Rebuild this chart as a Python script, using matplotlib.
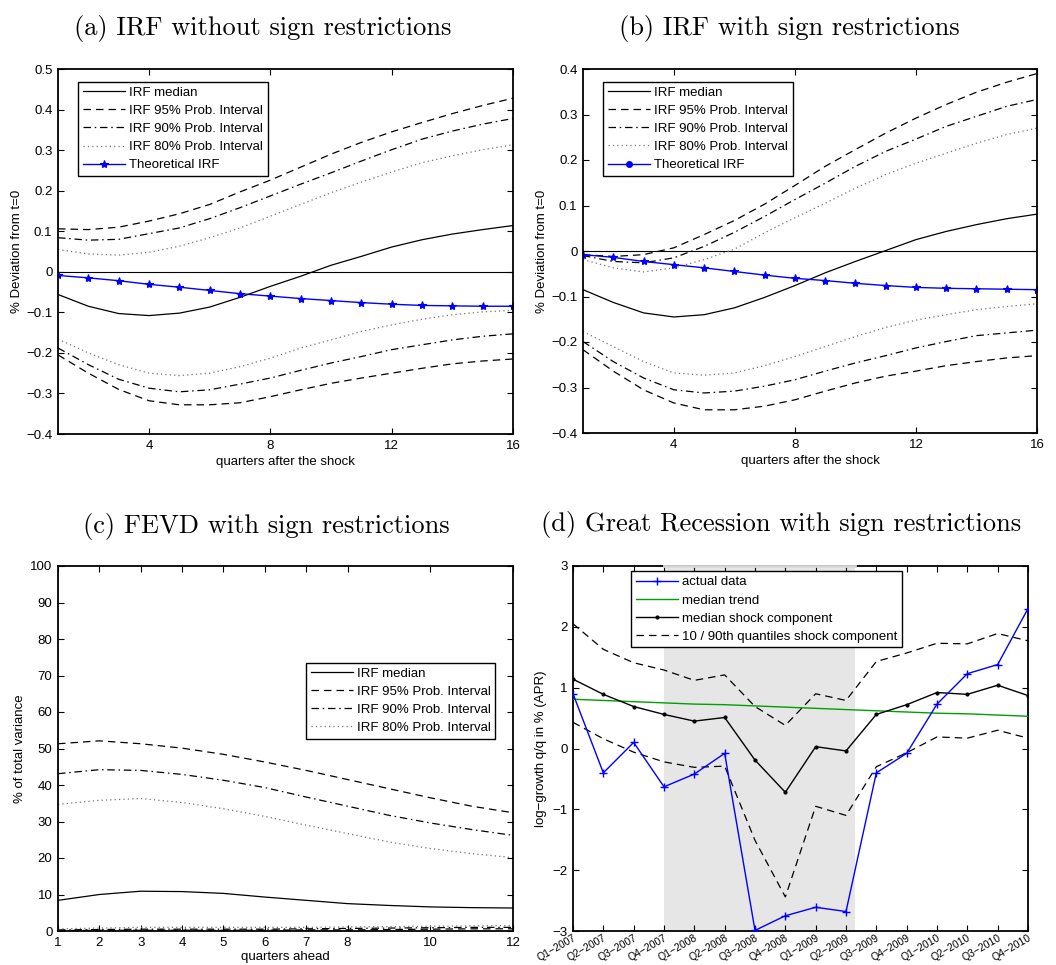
import matplotlib
matplotlib.use("Agg")
import matplotlib.pyplot as plt
from matplotlib.lines import Line2D
import numpy as np

plt.rcParams['font.family'] = ['Liberation Sans', 'DejaVu Sans']
plt.rcParams['axes.unicode_minus'] = True
plt.rcParams['font.size'] = 9.5

# ---------------- data ----------------
horizon = list(range(1, 17))

# (a) IRF without sign restrictions
a_median = [-0.056, -0.085, -0.103, -0.108, -0.102, -0.087, -0.063, -0.036,
            -0.011, 0.016, 0.038, 0.061, 0.079, 0.093, 0.104, 0.114]
a_up95 = [0.106, 0.104, 0.110, 0.125, 0.143, 0.166, 0.197, 0.226,
          0.258, 0.290, 0.319, 0.345, 0.368, 0.390, 0.410, 0.428]
a_up90 = [0.084, 0.078, 0.080, 0.094, 0.108, 0.131, 0.158, 0.187,
          0.216, 0.244, 0.273, 0.301, 0.327, 0.347, 0.364, 0.378]
a_up80 = [0.055, 0.044, 0.041, 0.048, 0.063, 0.084, 0.108, 0.137,
          0.166, 0.195, 0.221, 0.246, 0.269, 0.286, 0.301, 0.313]
a_lo80 = [-0.166, -0.200, -0.229, -0.250, -0.256, -0.250, -0.234, -0.213,
          -0.188, -0.168, -0.147, -0.131, -0.117, -0.106, -0.099, -0.095]
a_lo90 = [-0.188, -0.229, -0.265, -0.287, -0.296, -0.291, -0.277, -0.262,
          -0.243, -0.225, -0.209, -0.192, -0.180, -0.168, -0.159, -0.153]
a_lo95 = [-0.205, -0.250, -0.290, -0.318, -0.328, -0.328, -0.323, -0.308,
          -0.291, -0.275, -0.262, -0.250, -0.238, -0.227, -0.220, -0.215]
a_theory = [-0.009, -0.015, -0.022, -0.031, -0.038, -0.046, -0.054, -0.060,
            -0.066, -0.071, -0.076, -0.080, -0.083, -0.084, -0.085, -0.085]

# (b) IRF with sign restrictions
b_median = [-0.085, -0.113, -0.136, -0.145, -0.140, -0.125, -0.102, -0.076,
            -0.048, -0.023, 0.001, 0.025, 0.043, 0.058, 0.071, 0.081]
b_up95 = [-0.008, -0.012, -0.008, 0.007, 0.036, 0.067, 0.103, 0.144,
          0.186, 0.223, 0.259, 0.292, 0.322, 0.349, 0.371, 0.390]
b_up90 = [-0.010, -0.023, -0.026, -0.015, 0.010, 0.041, 0.076, 0.113,
          0.149, 0.186, 0.219, 0.246, 0.274, 0.296, 0.318, 0.333]
b_up80 = [-0.019, -0.037, -0.046, -0.037, -0.019, 0.004, 0.040, 0.073,
          0.105, 0.138, 0.168, 0.193, 0.215, 0.237, 0.256, 0.270]
b_lo80 = [-0.177, -0.210, -0.243, -0.268, -0.273, -0.268, -0.252, -0.232,
          -0.210, -0.188, -0.168, -0.152, -0.140, -0.129, -0.122, -0.116]
b_lo90 = [-0.199, -0.243, -0.279, -0.305, -0.312, -0.308, -0.297, -0.283,
          -0.264, -0.246, -0.230, -0.213, -0.199, -0.186, -0.180, -0.174]
b_lo95 = [-0.217, -0.264, -0.305, -0.334, -0.349, -0.349, -0.341, -0.327,
          -0.308, -0.290, -0.275, -0.264, -0.252, -0.243, -0.235, -0.230]
b_theory = [-0.008, -0.014, -0.023, -0.030, -0.037, -0.045, -0.053, -0.060,
            -0.065, -0.071, -0.076, -0.080, -0.082, -0.083, -0.084, -0.085]

# (c) FEVD with sign restrictions
fevd_h = list(range(1, 13))
c_median = [8.4, 10.0, 10.9, 10.8, 10.3, 9.3, 8.4, 7.5, 7.0, 6.6, 6.4, 6.3]
c_up95 = [51.3, 52.1, 51.3, 50.1, 48.4, 46.3, 44.0, 41.5, 39.0, 36.5, 34.2, 32.4]
c_up90 = [43.1, 44.2, 44.0, 42.9, 41.3, 39.3, 36.7, 34.2, 31.7, 29.6, 27.8, 26.2]
c_up80 = [34.7, 35.8, 36.3, 35.2, 33.5, 31.4, 29.0, 26.7, 24.4, 22.6, 21.2, 20.1]
c_lo80 = [0.6, 0.8, 1.0, 1.0, 1.0, 1.0, 1.0, 1.1, 1.2, 1.3, 1.4, 1.5]
c_lo90 = [0.3, 0.4, 0.5, 0.5, 0.5, 0.5, 0.6, 0.7, 0.8, 0.9, 1.0, 1.0]
c_lo95 = [0.1, 0.2, 0.2, 0.2, 0.2, 0.2, 0.3, 0.3, 0.4, 0.5, 0.6, 0.6]
c_xticks = [1, 2, 3, 4, 5, 6, 7, 8, 10, 12]

# (d) Great Recession decomposition
quarters = ['Q1\u22122007', 'Q2\u22122007', 'Q3\u22122007', 'Q4\u22122007',
            'Q1\u22122008', 'Q2\u22122008', 'Q3\u22122008', 'Q4\u22122008',
            'Q1\u22122009', 'Q2\u22122009', 'Q3\u22122009', 'Q4\u22122009',
            'Q1\u22122010', 'Q2\u22122010', 'Q3\u22122010', 'Q4\u22122010']
d_actual = [0.90, -0.40, 0.10, -0.63, -0.42, -0.08, -2.99, -2.75,
            -2.61, -2.68, -0.40, -0.08, 0.73, 1.23, 1.38, 2.30]
d_trend = [0.81, 0.79, 0.77, 0.75, 0.73, 0.72, 0.70, 0.68,
           0.66, 0.64, 0.62, 0.60, 0.58, 0.57, 0.55, 0.53]
d_shock = [1.14, 0.89, 0.69, 0.56, 0.45, 0.51, -0.19, -0.72,
           0.03, -0.04, 0.56, 0.72, 0.92, 0.89, 1.04, 0.87]
d_q90 = [2.05, 1.63, 1.41, 1.29, 1.12, 1.21, 0.69, 0.38,
         0.90, 0.79, 1.43, 1.57, 1.73, 1.72, 1.89, 1.77]
d_q10 = [0.43, 0.16, -0.06, -0.22, -0.31, -0.29, -1.51, -2.44,
         -0.95, -1.10, -0.30, -0.07, 0.19, 0.17, 0.30, 0.17]
recession_span = (3.0, 9.3)

# ---------------- figure ----------------
W, H = 1056, 965
fig = plt.figure(figsize=(W / 100, H / 100), dpi=100)


def px_axes(left, top, right, bottom):
    return fig.add_axes([left / W, 1 - bottom / H, (right - left) / W, (bottom - top) / H])


def style(ax):
    ax.tick_params(direction='in', top=True, right=True, length=4, width=0.8,
                   labelsize=9.5, pad=4)
    for s in ax.spines.values():
        s.set_linewidth(1.3)


title_kw = dict(family='cmr10', fontsize=19, ha='center', va='center')
LW = 0.9
dash95 = (0, (6, 4))
dashdot90 = (0, (6, 3, 1.2, 3))
dot80 = (0, (1, 2.5))
leg_kw = dict(frameon=True, fancybox=False, edgecolor='black', fontsize=9.5,
              framealpha=1.0, handlelength=3.2, handletextpad=0.3, borderpad=0.35,
              labelspacing=0.45, borderaxespad=0.0)


def irf_panel(ax, median, bands, theory, ylim, ticks, legend_marker):
    x = horizon
    ax.axhline(0, color='black', lw=0.8)
    ax.plot(x, median, color='black', lw=LW, label='IRF median')
    up95, up90, up80, lo80, lo90, lo95 = bands
    ax.plot(x, up95, color='black', lw=LW, ls=dash95, label='IRF 95% Prob. Interval')
    ax.plot(x, lo95, color='black', lw=LW, ls=dash95)
    ax.plot(x, up90, color='black', lw=LW, ls=dashdot90, label='IRF 90% Prob. Interval')
    ax.plot(x, lo90, color='black', lw=LW, ls=dashdot90)
    ax.plot(x, up80, color='0.45', lw=LW, ls=dot80, label='IRF 80% Prob. Interval')
    ax.plot(x, lo80, color='0.45', lw=LW, ls=dot80)
    ax.plot(x, theory, color='blue', lw=1.0, marker='*', ms=6, mew=0.8,
            label='Theoretical IRF')
    ax.set_xlim(1, 16)
    ax.set_ylim(*ylim)
    ax.set_xticks([4, 8, 12, 16])
    ax.set_yticks(ticks)
    ax.set_yticklabels(['0' if abs(t) < 1e-9 else ('%.1f' % t).replace('-', '\u2212')
                        for t in ticks])
    ax.set_xlabel('quarters after the shock', fontsize=9.5, labelpad=3)
    ax.set_ylabel('% Deviation from t=0', fontsize=9.5, labelpad=2)
    style(ax)
    h, l = ax.get_legend_handles_labels()
    if legend_marker != '*':
        h[-1] = Line2D([], [], color='blue', lw=1.0, marker=legend_marker, ms=4)
    ax.legend(h, l, loc='upper left', bbox_to_anchor=(0.045, 0.965), **leg_kw)


# (a)
ax_a = px_axes(58, 69, 513, 434)
irf_panel(ax_a, a_median, (a_up95, a_up90, a_up80, a_lo80, a_lo90, a_lo95), a_theory,
          (-0.4, 0.5), [-0.4, -0.3, -0.2, -0.1, 0.0, 0.1, 0.2, 0.3, 0.4, 0.5], '*')
fig.text(263 / W, 1 - 28 / H, '(a) IRF without sign restrictions', **title_kw)

# (b)
ax_b = px_axes(583, 69, 1037, 433)
irf_panel(ax_b, b_median, (b_up95, b_up90, b_up80, b_lo80, b_lo90, b_lo95), b_theory,
          (-0.4, 0.4), [-0.4, -0.3, -0.2, -0.1, 0.0, 0.1, 0.2, 0.3, 0.4], 'o')
fig.text(789 / W, 1 - 28 / H, '(b) IRF with sign restrictions', **title_kw)

# (c)
ax_c = px_axes(58, 566, 513, 931)
ax_c.plot(fevd_h, c_median, color='black', lw=LW, label='IRF median')
ax_c.plot(fevd_h, c_up95, color='black', lw=LW, ls=dash95, label='IRF 95% Prob. Interval')
ax_c.plot(fevd_h, c_lo95, color='black', lw=LW, ls=dash95)
ax_c.plot(fevd_h, c_up90, color='black', lw=LW, ls=dashdot90, label='IRF 90% Prob. Interval')
ax_c.plot(fevd_h, c_lo90, color='black', lw=LW, ls=dashdot90)
ax_c.plot(fevd_h, c_up80, color='0.45', lw=LW, ls=dot80, label='IRF 80% Prob. Interval')
ax_c.plot(fevd_h, c_lo80, color='0.45', lw=LW, ls=dot80)
ax_c.set_xlim(1, 12)
ax_c.set_ylim(0, 100)
ax_c.set_xticks(c_xticks)
ax_c.set_yticks(range(0, 101, 10))
ax_c.set_xlabel('quarters ahead', fontsize=9.5, labelpad=2)
ax_c.set_ylabel('% of total variance', fontsize=9.5, labelpad=3)
style(ax_c)
ax_c.legend(loc='upper left', bbox_to_anchor=(0.545, 0.735), **leg_kw)
fig.text(266 / W, 1 - 527 / H, '(c) FEVD with sign restrictions', **title_kw)

# (d)
ax_d = px_axes(573, 566, 1028, 931)
qx = np.arange(len(quarters))
ax_d.axvspan(*recession_span, color='0.9', lw=0, zorder=0)
ax_d.plot(qx, d_actual, color='blue', lw=1.0, marker='+', ms=6, mew=1.0,
          label='actual data', zorder=4)
ax_d.plot(qx, d_trend, color='#00a000', lw=1.0, label='median trend', zorder=3)
ax_d.plot(qx, d_shock, color='black', lw=1.0, marker='.', ms=4,
          label='median shock component', zorder=3)
ax_d.plot(qx, d_q90, color='black', lw=0.9, ls=dash95,
          label='10 / 90th quantiles shock component', zorder=3)
ax_d.plot(qx, d_q10, color='black', lw=0.9, ls=dash95, zorder=3)
ax_d.plot(recession_span, [3, 3], color='0.85', lw=2.0, zorder=3, clip_on=False)
ax_d.set_xlim(0, 15)
ax_d.set_ylim(-3, 3)
ax_d.set_xticks(qx)
ax_d.set_xticklabels(quarters, rotation=30, ha='right', rotation_mode='anchor',
                     fontsize=7.5)
ax_d.set_yticks(range(-3, 4))
ax_d.set_yticklabels([str(v).replace('-', '\u2212') for v in range(-3, 4)])
ax_d.set_ylabel('log\u2212growth q/q in % (APR)', fontsize=9.5, labelpad=4)
style(ax_d)
ax_d.tick_params(axis='x', pad=1, labelsize=7.5)
ax_d.legend(loc='upper left', bbox_to_anchor=(0.128, 0.985), **leg_kw)
fig.text(781 / W, 1 - 525 / H, '(d) Great Recession with sign restrictions', **title_kw)

fig.savefig('out.png', dpi=100)
